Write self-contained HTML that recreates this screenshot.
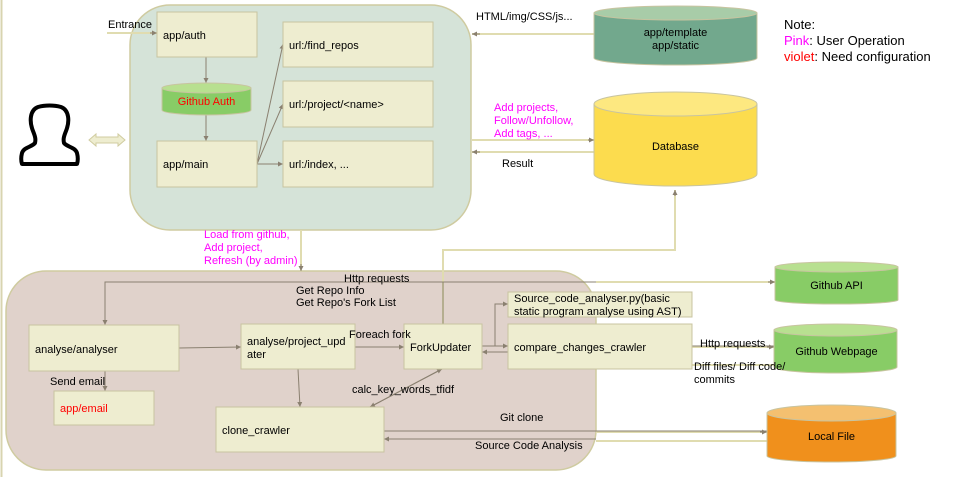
<!DOCTYPE html>
<html><head><meta charset="utf-8"><style>
html,body{margin:0;padding:0;background:#fff;}
svg{display:block;font-family:"Liberation Sans",Arial,sans-serif;}
</style></head><body>
<svg width="957" height="477" viewBox="0 0 957 477" xmlns="http://www.w3.org/2000/svg">
<defs>
<marker id="a" markerWidth="6" markerHeight="6" refX="5" refY="3" orient="auto" markerUnits="userSpaceOnUse"><path d="M0,0.5 L5,3 L0,5.5z" fill="#8a8070"/></marker>
</defs>
<rect x="0" y="0" width="957" height="477" fill="#fff"/>
<line x1="1.5" y1="0" x2="1.5" y2="477" stroke="#d8d4b0" stroke-width="2"/>

<!-- containers -->
<rect x="130" y="5" width="341" height="225" rx="40" fill="#d5e3d8" stroke="#cfcba0" stroke-width="1.5"/>
<rect x="6" y="271" width="590" height="199" rx="40" fill="#e0d2cb" stroke="#cfcba0" stroke-width="1.5"/>

<!-- outer tan lines -->
<g stroke="#e0dcb0" stroke-width="2" fill="none">
<line x1="107" y1="33" x2="157" y2="33"/>
<line x1="594" y1="34" x2="472" y2="34"/>
<line x1="472" y1="140" x2="594" y2="140"/>
<line x1="594" y1="152" x2="472" y2="152"/>
<polyline points="675,190 675,250 443,250 443,324"/>
<line x1="301" y1="230" x2="301" y2="271"/>
<line x1="596" y1="282" x2="775" y2="282"/>
<line x1="692" y1="347" x2="774" y2="347"/>
<line x1="692" y1="365" x2="774" y2="365"/>
<line x1="596" y1="432" x2="767" y2="432"/>
<line x1="596" y1="441" x2="767" y2="441"/>
</g>
<g stroke="#8a8070" stroke-width="1" fill="none">
<line x1="150" y1="33" x2="157" y2="33" marker-end="url(#a)"/>
<line x1="480" y1="34" x2="472" y2="34" marker-end="url(#a)"/>
<line x1="588" y1="140" x2="594" y2="140" marker-end="url(#a)"/>
<line x1="480" y1="152" x2="472" y2="152" marker-end="url(#a)"/>
<line x1="675" y1="196" x2="675" y2="190" marker-end="url(#a)"/>
<line x1="768" y1="282" x2="775" y2="282" marker-end="url(#a)"/>
<line x1="767" y1="347" x2="774" y2="347" marker-end="url(#a)"/>
<line x1="760" y1="432" x2="767" y2="432" marker-end="url(#a)"/>
<!-- inner -->
<line x1="206" y1="57" x2="206" y2="83" marker-end="url(#a)"/>
<line x1="206" y1="115" x2="206" y2="141" marker-end="url(#a)"/>
<line x1="257" y1="164" x2="283" y2="44" marker-end="url(#a)"/>
<line x1="257" y1="164" x2="283" y2="104" marker-end="url(#a)"/>
<line x1="257" y1="164" x2="283" y2="164" marker-end="url(#a)"/>
<line x1="301" y1="264" x2="301" y2="271" marker-end="url(#a)"/>
<polyline points="596,282 105,282 105,325" marker-end="url(#a)"/>
<line x1="443" y1="282" x2="443" y2="324"/>
<line x1="105" y1="371" x2="105" y2="391" marker-end="url(#a)"/>
<line x1="179" y1="348" x2="241" y2="347" marker-end="url(#a)"/>
<line x1="355" y1="347" x2="404" y2="347" marker-end="url(#a)"/>
<line x1="298" y1="369" x2="300" y2="407" marker-end="url(#a)"/>
<line x1="370" y1="407" x2="442" y2="369" marker-end="url(#a)"/>
<line x1="442" y1="369" x2="370" y2="407" marker-end="url(#a)"/>
<line x1="482" y1="346" x2="508" y2="346" marker-end="url(#a)"/>
<line x1="508" y1="352" x2="482" y2="352" marker-end="url(#a)"/>
<polyline points="495,346 495,304 508,304" marker-end="url(#a)"/>
<line x1="692" y1="346" x2="774" y2="346"/>
<line x1="384" y1="431" x2="767" y2="431"/>
<line x1="596" y1="439" x2="384" y2="439" marker-end="url(#a)"/>
</g>

<!-- boxes -->
<g fill="#eeedd0" stroke="#c8c4a0" stroke-width="1">
<rect x="157" y="12" width="100" height="45"/>
<rect x="157" y="141" width="100" height="46"/>
<rect x="283" y="22" width="150" height="45"/>
<rect x="283" y="81" width="150" height="46"/>
<rect x="283" y="141" width="150" height="46"/>
<rect x="29" y="325" width="150" height="46"/>
<rect x="54" y="391" width="100" height="34"/>
<rect x="241" y="324" width="114" height="45"/>
<rect x="404" y="324" width="78" height="45"/>
<rect x="508" y="292" width="184" height="25"/>
<rect x="508" y="324" width="184" height="45"/>
<rect x="216" y="407" width="168" height="45"/>
</g>

<!-- cylinders -->
<g stroke="#c8c4a0" stroke-width="1">
<path d="M162,88 v22 a44.5,5 0 0 0 89,0 v-22z" fill="#88cc66"/><ellipse cx="206.5" cy="88" rx="44.5" ry="5" fill="#b8e090"/>
<path d="M594,13 v45 a81.5,7 0 0 0 163,0 v-45z" fill="#72a88d"/><ellipse cx="675.5" cy="13" rx="81.5" ry="7" fill="#a8cca8"/>
<path d="M594,104 v70 a81.5,12 0 0 0 163,0 v-70z" fill="#fcdc4e"/><ellipse cx="675.5" cy="104" rx="81.5" ry="12" fill="#fde880"/>
<path d="M775,267 v33 a61.5,4 0 0 0 123,0 v-33z" fill="#88cc66"/><ellipse cx="836.5" cy="267" rx="61.5" ry="5" fill="#b8e090"/>
<path d="M774,330 v37 a61.5,6 0 0 0 123,0 v-37z" fill="#88cc66"/><ellipse cx="835.5" cy="330" rx="61.5" ry="6" fill="#b8e090"/>
<path d="M767,413 v43 a64.5,6 0 0 0 129,0 v-43z" fill="#f0901c"/><ellipse cx="831.5" cy="413" rx="64.5" ry="8" fill="#f4c070"/>
</g>

<!-- person -->
<path d="M38,107 c-8,3 -9,14 -5,24 c2,5 3,8 2,12 c-3,4 -11,4 -13,10 c-1,4 -1,8 0,11 h55 c1,-3 1,-7 0,-11 c-2,-6 -10,-6 -13,-10 c-1,-4 0,-7 2,-12 c4,-10 3,-21 -5,-24 c-7,-2 -16,-2 -23,0z" fill="none" stroke="#000" stroke-width="4" stroke-linejoin="round"/>
<path d="M89,140 l7,-6 v3 h22 v-3 l7,6 l-7,6 v-3 h-22 v3z" fill="#eeedd0" stroke="#d0cca0" stroke-width="1"/>

<!-- text -->
<g font-size="11" fill="#000">
<text x="108" y="28">Entrance</text>
<text x="163" y="39">app/auth</text>
<text x="163" y="168">app/main</text>
<text x="289" y="49">url:/find_repos</text>
<text x="289" y="108">url:/project/&lt;name&gt;</text>
<text x="289" y="168">url:/index, ...</text>
<text x="476" y="20">HTML/img/CSS/js...</text>
<text x="502" y="167">Result</text>
<text x="675.5" y="36" text-anchor="middle">app/template</text>
<text x="675.5" y="49" text-anchor="middle">app/static</text>
<text x="675.5" y="150" text-anchor="middle">Database</text>
<text x="836.5" y="289" text-anchor="middle">Github API</text>
<text x="836.5" y="355" text-anchor="middle">Github Webpage</text>
<text x="831.5" y="440" text-anchor="middle">Local File</text>
<text x="344" y="282">Http requests</text>
<text x="296" y="294">Get Repo Info</text>
<text x="296" y="306">Get Repo's Fork List</text>
<text x="35" y="353">analyse/analyser</text>
<text x="50" y="385">Send email</text>
<text x="247" y="345">analyse/project_upd</text>
<text x="247" y="358">ater</text>
<text x="349" y="338">Foreach fork</text>
<text x="410" y="351">ForkUpdater</text>
<text x="352" y="393">calc_key_words_tfidf</text>
<text x="222" y="434">clone_crawler</text>
<text x="514" y="302">Source_code_analyser.py(basic</text>
<text x="514" y="315">static program analyse using AST)</text>
<text x="514" y="351">compare_changes_crawler</text>
<text x="700" y="347">Http requests</text>
<text x="694" y="370">Diff files/ Diff code/</text>
<text x="694" y="383">commits</text>
<text x="500" y="421">Git clone</text>
<text x="475" y="449">Source Code Analysis</text>
</g>
<g font-size="11" fill="#ff00ff">
<text x="204" y="238">Load from github,</text>
<text x="204" y="251">Add project,</text>
<text x="204" y="264">Refresh (by admin)</text>
<text x="494" y="111">Add projects,</text>
<text x="494" y="124">Follow/Unfollow,</text>
<text x="494" y="137">Add tags, ...</text>
</g>
<g font-size="11" fill="#ff0000">
<text x="206.5" y="105" text-anchor="middle">Github Auth</text>
<text x="60" y="412">app/email</text>
</g>
<g font-size="13">
<text x="784" y="29" fill="#000">Note:</text>
<text x="784" y="45"><tspan fill="#ff00ff">Pink</tspan><tspan fill="#000">: User Operation</tspan></text>
<text x="784" y="61"><tspan fill="#ff0000">violet</tspan><tspan fill="#000">: Need configuration</tspan></text>
</g>
</svg>
</body></html>
